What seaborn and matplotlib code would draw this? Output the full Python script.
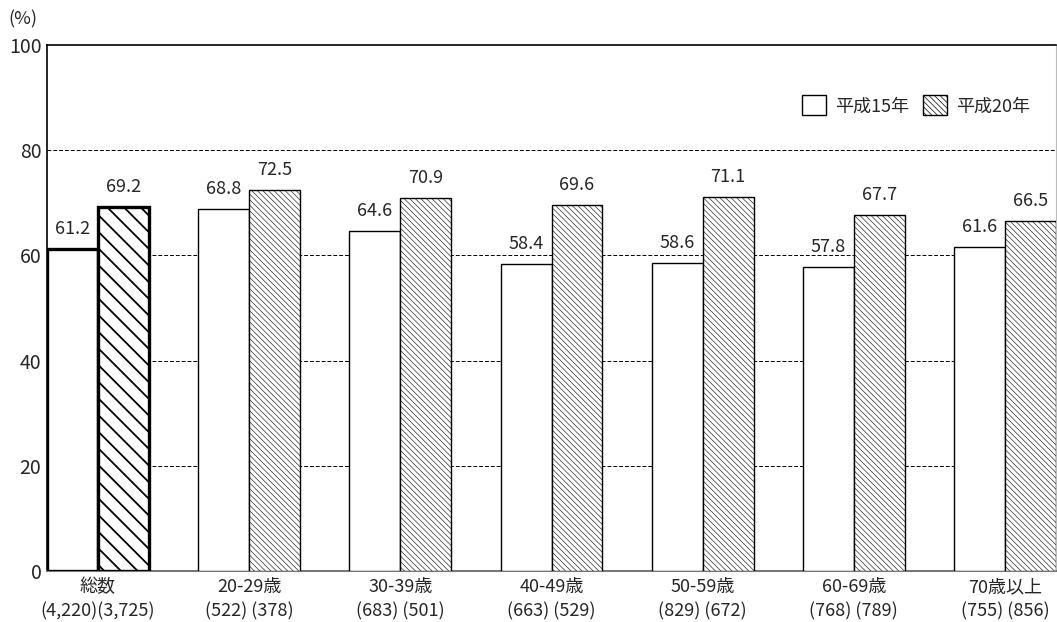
import matplotlib
matplotlib.use("Agg")
import matplotlib.pyplot as plt
import matplotlib.patches as mpatches
import seaborn as sns
import pandas as pd

categories = ["総数", "20-29歳", "30-39歳", "40-49歳", "50-59歳", "60-69歳", "70歳以上"]
counts_h15 = ["4,220", "522", "683", "663", "829", "768", "755"]
counts_h20 = ["3,725", "378", "501", "529", "672", "789", "856"]
series_names = ["平成15年", "平成20年"]
values_h15 = [61.2, 68.8, 64.6, 58.4, 58.6, 57.8, 61.6]
values_h20 = [69.2, 72.5, 70.9, 69.6, 71.1, 67.7, 66.5]

sns.set_style("white")
plt.rcParams['font.family'] = ['Noto Sans CJK JP', 'DejaVu Sans']
plt.rcParams['hatch.linewidth'] = 0.5

df = pd.DataFrame({
    "cat": categories * 2,
    "series": [series_names[0]] * len(categories) + [series_names[1]] * len(categories),
    "value": values_h15 + values_h20,
})

fig = plt.figure(figsize=(10.57, 6.22), dpi=100)
ax = fig.add_axes([47 / 1057, 51 / 622, 1009 / 1057, 526 / 622])

sns.barplot(data=df, x="cat", y="value", hue="series", order=categories,
            hue_order=series_names, width=0.674, ax=ax, legend=False,
            errorbar=None, saturation=1)

DENSE = "\\\\\\\\\\\\"
n = len(categories)
patches = [p for p in ax.patches if isinstance(p, mpatches.Rectangle)][:2 * n]
for i, p in enumerate(patches):
    s = i // n
    c = i % n
    p.set_facecolor("white")
    p.set_edgecolor("black")
    p.set_zorder(3)
    if c == 0:
        p.set_linewidth(2.4)
        if s == 1:
            p.set_hatch("\\\\")
            if hasattr(p, "set_hatch_linewidth"):
                p.set_hatch_linewidth(1.3)
    else:
        p.set_linewidth(1.0)
        if s == 1:
            p.set_hatch(DENSE)
            if hasattr(p, "set_hatch_linewidth"):
                p.set_hatch_linewidth(0.4)
    h = p.get_height()
    ax.text(p.get_x() + p.get_width() / 2, h + 2.1, f"{h:.1f}",
            ha="center", va="bottom", fontsize=13, zorder=4)

ax.set_xlim(-0.337, 6.337)
ax.set_ylim(0, 100)
ax.set_yticks([0, 20, 40, 60, 80, 100])
ax.set_yticklabels(["0", "20", "40", "60", "80", "100"], fontsize=14)
ax.set_xticks(range(n))
labels = []
for i, (c, a, b) in enumerate(zip(categories, counts_h15, counts_h20)):
    sep = "" if i == 0 else " "
    labels.append(f"{c}\n({a}){sep}({b})")
ax.set_xticklabels(labels, fontsize=13, linespacing=1.45)
ax.tick_params(axis="both", length=0, pad=5)
ax.tick_params(axis="y", pad=4)
ax.set_xlabel("")
ax.set_ylabel("")

for y in [20, 40, 60, 80]:
    ax.axhline(y, color="black", lw=0.7, ls=(0, (4, 2)), zorder=1)

ax.spines["left"].set_color("black")
ax.spines["left"].set_linewidth(1.2)
ax.spines["top"].set_color("black")
ax.spines["top"].set_linewidth(1.2)
ax.spines["bottom"].set_color("#777777")
ax.spines["bottom"].set_linewidth(1.5)
ax.spines["right"].set_color("#bbbbbb")
ax.spines["right"].set_linewidth(0.8)
for sp in ax.spines.values():
    sp.set_visible(True)

fig.text(8 / 1057, 1 - 19 / 622, "(%)", fontsize=13, va="center", ha="left")

h1 = mpatches.Patch(facecolor="white", edgecolor="black", lw=1.0, label=series_names[0])
h2 = mpatches.Patch(facecolor="white", edgecolor="black", lw=1.0, hatch=DENSE, label=series_names[1])
ax.legend(handles=[h1, h2], loc="upper right", bbox_to_anchor=(0.99, 0.935),
          ncol=2, frameon=False, fontsize=13, handlelength=1.3, handleheight=1.3,
          handletextpad=0.5, columnspacing=0.8)

fig.savefig("out.png", dpi=100)
